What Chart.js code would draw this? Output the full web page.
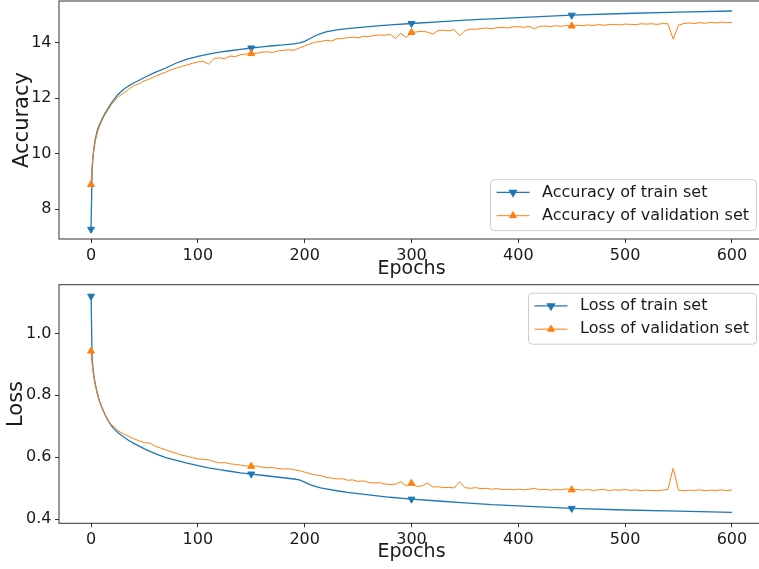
<!DOCTYPE html>
<html>
<head>
<meta charset="utf-8">
<script src="https://cdn.jsdelivr.net/npm/chart.js@4.4.1/dist/chart.umd.min.js"></script>
<style>
  html, body { margin: 0; padding: 0; background: #fff; }
  #wrap { width: 759px; height: 569px; overflow: hidden; position: relative; }
  .pane { position: absolute; left: 0; }
  #top { top: 0; }
  #bottom { top: 280px; }
</style>
</head>
<body>
<div id="wrap">
  <div class="pane" id="top"><canvas id="accChart" width="765" height="280"></canvas></div>
  <div class="pane" id="bottom"><canvas id="lossChart" width="765" height="289"></canvas></div>
</div>
<script>
// train curves are smooth, so fewer samples are enough
const trainEpochs = [0, 1, 2, 3, 4, 6, 8, 10, 13, 16, 19, 22, 25, 30, 35, 40, 50, 60, 70, 80,
  90, 100, 110, 120, 130, 140, 150, 160, 170, 180, 190, 195, 200, 205, 210, 215, 220, 230, 240, 260,
  280, 300, 325, 350, 375, 400, 450, 500, 550, 600];
const trainAcc = [7.28, 9.45, 9.95, 10.28, 10.52, 10.85, 11.06, 11.22, 11.44, 11.63,
  11.82, 11.97, 12.12, 12.30, 12.43, 12.54, 12.74, 12.92, 13.08, 13.26,
  13.40, 13.50, 13.58, 13.65, 13.70, 13.75, 13.80, 13.84, 13.88, 13.91,
  13.95, 13.98, 14.04, 14.14, 14.24, 14.32, 14.38, 14.45, 14.50, 14.57,
  14.63, 14.68, 14.74, 14.80, 14.85, 14.89, 14.98, 15.04, 15.09, 15.13];
const trainLoss = [1.12, 0.92, 0.88, 0.855, 0.835, 0.805, 0.78, 0.762, 0.738, 0.718,
  0.702, 0.690, 0.680, 0.667, 0.655, 0.645, 0.627, 0.612, 0.599, 0.590,
  0.581, 0.573, 0.566, 0.560, 0.555, 0.550, 0.546, 0.542, 0.538, 0.534,
  0.530, 0.527, 0.520, 0.512, 0.506, 0.501, 0.498, 0.492, 0.487, 0.479,
  0.471, 0.465, 0.459, 0.453, 0.447, 0.443, 0.435, 0.430, 0.426, 0.422];

// validation epochs: dense at the start, then every 5
const valEpochs = [0, 1, 2, 3, 4, 6, 8, 10, 13, 16, 19, 22];
for (let e = 25; e <= 600; e += 5) valEpochs.push(e);

const valAcc = [8.89, 9.55, 9.95, 10.22, 10.45, 10.78, 11.00, 11.17, 11.40, 11.58, 11.76, 11.90,
  12.04, 12.16, 12.31, 12.44, 12.52, 12.62, 12.69, 12.78, 12.86, 12.93,
  13.02, 13.08, 13.14, 13.19, 13.25, 13.30, 13.32, 13.22, 13.41, 13.45,
  13.41, 13.51, 13.49, 13.56, 13.58, 13.60, 13.61, 13.65, 13.66, 13.64,
  13.69, 13.72, 13.73, 13.72, 13.80, 13.87, 13.95, 14.01, 14.03, 14.08,
  14.05, 14.13, 14.14, 14.17, 14.19, 14.16, 14.22, 14.21, 14.25, 14.27,
  14.25, 14.30, 14.14, 14.33, 14.18, 14.36, 14.38, 14.40, 14.37, 14.30,
  14.43, 14.44, 14.42, 14.46, 14.24, 14.42, 14.48, 14.47, 14.50, 14.52,
  14.49, 14.53, 14.54, 14.52, 14.56, 14.57, 14.54, 14.58, 14.49, 14.58,
  14.59, 14.57, 14.60, 14.58, 14.61, 14.59, 14.62, 14.60, 14.63, 14.61,
  14.64, 14.62, 14.64, 14.65, 14.63, 14.66, 14.65, 14.64, 14.67, 14.66,
  14.67, 14.65, 14.68, 14.67, 14.12, 14.62, 14.68, 14.70, 14.68, 14.71,
  14.69, 14.72, 14.70, 14.73, 14.71, 14.72];
const valLoss = [0.943, 0.905, 0.875, 0.852, 0.832, 0.803, 0.780, 0.762, 0.739, 0.720, 0.704, 0.698,
  0.686, 0.676, 0.668, 0.660, 0.653, 0.647, 0.646, 0.636, 0.630, 0.624,
  0.618, 0.613, 0.607, 0.603, 0.599, 0.595, 0.593, 0.592, 0.586, 0.582,
  0.583, 0.579, 0.577, 0.575, 0.572, 0.571, 0.572, 0.568, 0.566, 0.567,
  0.564, 0.562, 0.563, 0.560, 0.557, 0.552, 0.547, 0.543, 0.541, 0.535,
  0.533, 0.530, 0.531, 0.526, 0.527, 0.522, 0.524, 0.519, 0.517, 0.518,
  0.514, 0.512, 0.513, 0.521, 0.508, 0.516, 0.506, 0.508, 0.517, 0.504,
  0.505, 0.502, 0.503, 0.501, 0.521, 0.502, 0.500, 0.502, 0.499, 0.500,
  0.497, 0.499, 0.496, 0.497, 0.495, 0.497, 0.495, 0.497, 0.500, 0.495,
  0.497, 0.494, 0.496, 0.495, 0.498, 0.495, 0.496, 0.494, 0.496, 0.493,
  0.495, 0.496, 0.493, 0.495, 0.494, 0.496, 0.493, 0.495, 0.492, 0.494,
  0.493, 0.492, 0.494, 0.496, 0.565, 0.494, 0.492, 0.494, 0.493, 0.495,
  0.492, 0.494, 0.493, 0.495, 0.492, 0.495];

const epochTicks = [0, 100, 200, 300, 400, 500, 600];
const accTicks = [8, 10, 12, 14];
const lossTicks = [0.4, 0.6, 0.8, 1.0];
const markEvery = [0, 150, 300, 450];

const BLUE = '#1f77b4';
const ORANGE = '#ff7f0e';
const INK = '#1a1a1a';
const SPINE = '#333';

Chart.defaults.font.family = '"DejaVu Sans", sans-serif';
Chart.defaults.color = INK;

const pts = (xs, ys) => xs.map((x, i) => ({ x: x, y: ys[i] }));
const markerSize = (ctx) => (ctx.raw && markEvery.includes(ctx.raw.x) ? 4 : 0);

// matplotlib-like box around the axes
const frame = {
  id: 'frame',
  afterDatasetsDraw(chart) {
    const { ctx, chartArea: a } = chart;
    ctx.save();
    ctx.strokeStyle = SPINE;
    ctx.lineWidth = 1;
    ctx.strokeRect(a.left, a.top, a.right - a.left, a.bottom - a.top);
    ctx.restore();
  }
};

// legend box inside the axes, like plt.legend()
const boxLegend = {
  id: 'boxLegend',
  afterDraw(chart, args, opts) {
    const { ctx, chartArea: a } = chart;
    const sets = chart.data.datasets;
    ctx.save();
    ctx.font = '16px "DejaVu Sans"';
    const labelW = Math.max(...sets.map(d => ctx.measureText(d.label).width));
    const w = 6 + 33 + 12.5 + labelW + 7.5;
    const h = 51;
    const x = a.right - 7.5 - w;
    const y = opts.corner === 'top' ? a.top + 8.5 : a.bottom - 8.3 - h;

    ctx.beginPath();
    ctx.roundRect(x, y, w, h, 4);
    ctx.fillStyle = 'rgba(255,255,255,0.8)';
    ctx.fill();
    ctx.strokeStyle = '#cccccc';
    ctx.lineWidth = 1;
    ctx.stroke();

    sets.forEach((d, i) => {
      const ry = y + 12.7 + i * 23.3;
      ctx.strokeStyle = d.borderColor;
      ctx.lineWidth = d.borderWidth;
      ctx.beginPath();
      ctx.moveTo(x + 6, ry);
      ctx.lineTo(x + 39, ry);
      ctx.stroke();
      ctx.fillStyle = d.borderColor;
      Chart.helpers.drawPoint(ctx, {
        pointStyle: 'triangle', rotation: d.pointRotation, radius: 4, borderWidth: 1
      }, x + 22.5, ry);
      ctx.fillStyle = INK;
      ctx.textBaseline = 'middle';
      ctx.textAlign = 'left';
      ctx.fillText(d.label, x + 51.5, ry);
    });
    ctx.restore();
  }
};

function lineSet(label, data, color, width, rot, order) {
  return {
    label: label,
    data: data,
    borderColor: color,
    backgroundColor: color,
    borderWidth: width,
    pointStyle: 'triangle',
    pointRotation: rot,
    pointRadius: markerSize,
    pointHoverRadius: 0,
    pointBorderWidth: 1,
    tension: 0,
    fill: false,
    order: order
  };
}

function axisX(height, tickPad, titlePad) {
  return {
    type: 'linear',
    min: -30,
    max: 630,
    afterBuildTicks: s => { s.ticks = epochTicks.map(v => ({ value: v })); },
    afterFit: s => { s.height = height; s.paddingLeft = 0; s.paddingRight = 0; },
    border: { display: false },
    grid: { drawOnChartArea: false, drawTicks: true, tickLength: 4, color: SPINE },
    ticks: { font: { size: 16, lineHeight: 1 }, padding: tickPad, maxRotation: 0, color: INK },
    title: { display: true, text: 'Epochs', font: { size: 19 }, padding: { top: 0, bottom: titlePad }, color: INK }
  };
}

function axisY(min, max, tickVals, fmt, title, titlePad) {
  return {
    type: 'linear',
    min: min,
    max: max,
    afterBuildTicks: s => { s.ticks = tickVals.map(v => ({ value: v })); },
    afterFit: s => { s.width = 59; s.paddingTop = 0; s.paddingBottom = 0; },
    border: { display: false },
    grid: { drawOnChartArea: false, drawTicks: true, tickLength: 4, color: SPINE },
    ticks: { font: { size: 16 }, padding: 3.5, color: INK, callback: fmt },
    title: { display: true, text: title, font: { size: 21 }, padding: { top: titlePad, bottom: 0 }, color: INK }
  };
}

new Chart(document.getElementById('accChart'), {
  type: 'line',
  data: {
    datasets: [
      lineSet('Accuracy of train set', pts(trainEpochs, trainAcc), BLUE, 1.3, 180, 1),
      lineSet('Accuracy of validation set', pts(valEpochs, valAcc), ORANGE, 1, 0, 0)
    ]
  },
  options: {
    responsive: false,
    animation: false,
    events: [],
    layout: { autoPadding: false, padding: { top: 1, right: 1, left: 0, bottom: 0 } },
    plugins: { legend: { display: false }, tooltip: { enabled: false }, boxLegend: { corner: 'bottom' } },
    scales: {
      x: axisX(41, 4.5, 0),
      y: axisY(6.93, 15.49, accTicks, v => String(v), 'Accuracy', 10)
    }
  },
  plugins: [frame, boxLegend]
});

new Chart(document.getElementById('lossChart'), {
  type: 'line',
  data: {
    datasets: [
      lineSet('Loss of train set', pts(trainEpochs, trainLoss), BLUE, 1.3, 180, 1),
      lineSet('Loss of validation set', pts(valEpochs, valLoss), ORANGE, 1, 0, 0)
    ]
  },
  options: {
    responsive: false,
    animation: false,
    events: [],
    layout: { autoPadding: false, padding: { top: 4.7, right: 1, left: 0, bottom: 0 } },
    plugins: { legend: { display: false }, tooltip: { enabled: false }, boxLegend: { corner: 'top' } },
    scales: {
      x: axisX(45.7, 5, 5.6),
      y: axisY(0.387, 1.157, lossTicks, v => v.toFixed(1), 'Loss', 4.4)
    }
  },
  plugins: [frame, boxLegend]
});
</script>
</body>
</html>
